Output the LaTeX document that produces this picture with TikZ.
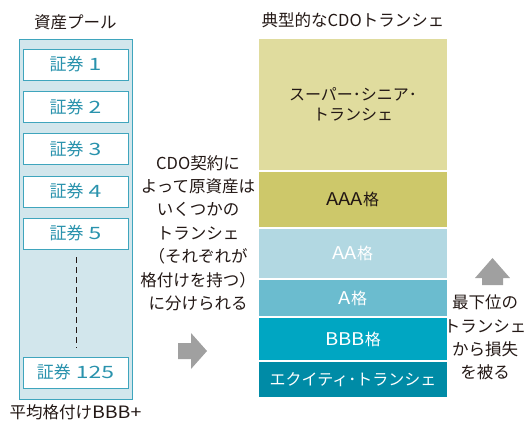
\documentclass[tikz,border=0pt]{standalone}
\usepackage{fontspec}
\setmainfont{Noto Sans CJK JP}
\definecolor{txt}{HTML}{231815}
\definecolor{poolfill}{HTML}{D2E6EC}
\definecolor{poolline}{HTML}{3FA5BD}
\definecolor{pooltext}{HTML}{2A93AD}
\definecolor{tsuper}{HTML}{E0DC9E}
\definecolor{taaa}{HTML}{CDC86A}
\definecolor{taa}{HTML}{B2D8E2}
\definecolor{ta}{HTML}{6BBCCF}
\definecolor{tbbb}{HTML}{00A6C2}
\definecolor{teq}{HTML}{008BA6}
\definecolor{arrowgray}{HTML}{A0A0A0}
% wide Latin: #1 horizontal scale, #2 font size, #3 text
\newcommand\widelat[3]{\scalebox{#1}[1]{\fontsize{#2}{#2}\selectfont #3}}
\tikzset{
  lbl/.style={font=\fontsize{16.5}{23.4}\selectfont, text=txt, inner sep=0pt, align=center},
  secbox/.style={draw=poolline, line width=1pt, fill=white, minimum width=105pt, minimum height=31pt,
    inner sep=0pt, text=pooltext, font=\fontsize{17}{20}\selectfont},
  layer/.style={minimum width=188pt, inner sep=0pt, align=center, font=\fontsize{16}{20}\selectfont},
  garrow/.style={fill=arrowgray, draw=none}
}
\begin{document}
\begin{tikzpicture}[x=1pt,y=-1pt]
\useasboundingbox (0,0) rectangle (528,424);
% titles
\node[lbl] (t1) at (75.5,22) {資産プール};
\node[lbl] (t2) at (353,20) {典型的なCDOトランシェ};
\node[lbl] (t3) at (75.5,412) {平均格付け\widelat{1.15}{17}{BBB+}};
% pool
\node[draw=poolline, line width=1pt, fill=poolfill, minimum width=113pt, minimum height=360pt, inner sep=0pt] (pool) at (75.5,219) {};
\node[secbox] (s1) at (75.5,64.5) {証券\hspace{5pt}\widelat{1.35}{17}{1}};
\node[secbox] (s2) at (75.5,107) {証券\hspace{5pt}\widelat{1.35}{17}{2}};
\node[secbox] (s3) at (75.5,149) {証券\hspace{5pt}\widelat{1.35}{17}{3}};
\node[secbox] (s4) at (75.5,191.5) {証券\hspace{5pt}\widelat{1.35}{17}{4}};
\node[secbox] (s5) at (75.5,233.5) {証券\hspace{5pt}\widelat{1.35}{17}{5}};
\node[secbox] (s125) at (75.5,372.5) {証券\hspace{5pt}\widelat{1.35}{17}{125}};
\coordinate (d1) at (76,257);
\coordinate (d2) at (76,348);
\draw[txt, line width=1pt, dash pattern=on 6pt off 4pt] (d1) -- (d2);
% middle text
\node[lbl] (mid) at (198,233) {CDO契約に\\よって原資産は\\いくつかの\\トランシェ\\（それぞれが\\格付けを持つ）\\に分けられる};
% right arrow
\fill[garrow] (178,343) -- (191,343) -- (191,333) -- (207,351) -- (191,369) -- (191,359) -- (178,359) -- cycle;
% tranches
\node[layer, fill=tsuper, minimum height=131pt, text=txt] (super) at (353,104.5) {スーパー･シニア･\\トランシェ};
\node[layer, fill=taaa, minimum height=55pt, text=txt] (aaa) at (353,199.5) {\widelat{1.15}{17.5}{AAA}格};
\node[layer, fill=taa, minimum height=49pt, text=white] (aa) at (353,253.5) {\widelat{1.15}{17.5}{AA}格};
\node[layer, fill=ta, minimum height=36pt, text=white] (a) at (353,298) {\widelat{1.15}{17.5}{A}格};
\node[layer, fill=tbbb, minimum height=42pt, text=white] (bbb) at (353,339) {\widelat{1.15}{17.5}{BBB}格};
\node[layer, fill=teq, minimum height=35pt, text=white] (eq) at (353,379.5) {エクイティ･トランシェ};
% up arrow
\fill[garrow] (482,285) -- (482,278) -- (475,278) -- (492.5,258) -- (510,278) -- (503,278) -- (503,285) -- cycle;
\node[lbl] (loss) at (485,337.5) {最下位の\\トランシェ\\から損失\\を被る};
\end{tikzpicture}
\end{document}
